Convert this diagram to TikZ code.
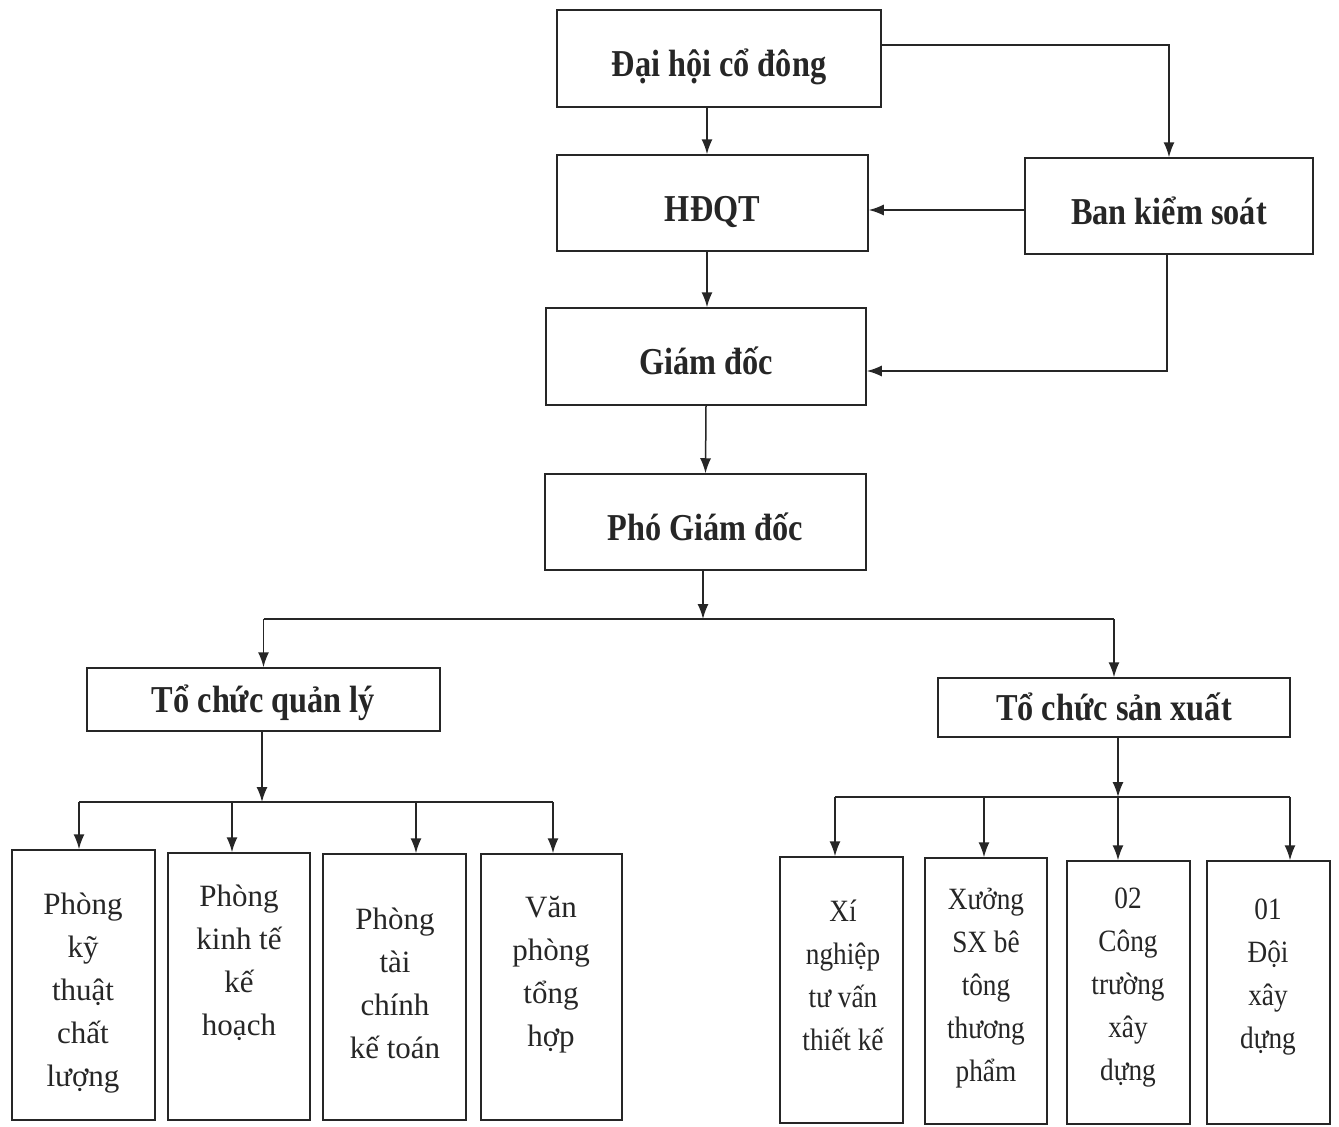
\documentclass[tikz,border=0pt]{standalone}
\usepackage{fontspec}
\setmainfont{Liberation Serif}
\newfontfamily\headfont[FakeStretch=0.85]{Liberation Serif}
\newfontfamily\narrowfont[FakeStretch=0.88]{Liberation Serif}
\usetikzlibrary{arrows.meta}
\definecolor{ink}{HTML}{262626}
\begin{document}
\begin{tikzpicture}[x=1pt,y=-1pt,
  box/.style={draw=ink,line width=1.5pt,inner sep=0pt,text=ink},
  head/.style={box,font=\headfont\bfseries\fontsize{38}{40}\selectfont,text height=38pt,text depth=2pt},
  lowhead/.style={head,text height=28pt,text depth=2pt},
  body/.style={align=center,text=ink,inner sep=0pt,font=\fontsize{31}{43}\selectfont},
  nbody/.style={body,font=\narrowfont\fontsize{31}{43}\selectfont},
  arr/.style={draw=ink,line width=1.5pt,-{Latex[length=15pt,width=11pt]}},
  ln/.style={draw=ink,line width=1.5pt}]
\fill[white] (0,0) rectangle (1339,1127);
\useasboundingbox (0,0) rectangle (1339,1127);

% top level
\node[head,minimum width=324pt,minimum height=97pt] (dh) at (719,58.5) {Đại hội cổ đông};
\node[head,minimum width=311pt,minimum height=96pt] (hd) at (712.5,203) {HĐQT};
\node[head,minimum width=288pt,minimum height=96pt] (bks) at (1169,206) {Ban kiểm soát};
\node[head,minimum width=320pt,minimum height=97pt] (gd) at (706,356.5) {Giám đốc};
\node[head,minimum width=321pt,minimum height=96pt] (pgd) at (705.5,522) {Phó Giám đốc};
\node[lowhead,minimum width=353pt,minimum height=63pt] (tcql) at (263.5,699.5) {Tổ chức quản lý};
\node[lowhead,minimum width=352pt,minimum height=59pt] (tcsx) at (1114,707.5) {Tổ chức sản xuất};

% bottom boxes
\node[box,minimum width=143pt,minimum height=270pt] (b1) at (83.5,985) {};
\node[box,minimum width=142pt,minimum height=267pt] (b2) at (239,986.5) {};
\node[box,minimum width=143pt,minimum height=266pt] (b3) at (394.5,987) {};
\node[box,minimum width=141pt,minimum height=266pt] (b4) at (551.5,987) {};
\node[box,minimum width=123pt,minimum height=266pt] (b5) at (841.5,990) {};
\node[box,minimum width=122pt,minimum height=266pt] (b6) at (986,991) {};
\node[box,minimum width=123pt,minimum height=263pt] (b7) at (1128.5,992.5) {};
\node[box,minimum width=123pt,minimum height=263pt] (b8) at (1268.5,992.5) {};

\node[body] (t1) at (83,993) {Phòng\\kỹ\\thuật\\chất\\lượng};
\node[body] (t2) at (239,963) {Phòng\\kinh tế\\kế\\hoạch};
\node[body] (t3) at (395,983) {Phòng\\tài\\chính\\kế toán};
\node[body] (t4) at (551,975) {Văn\\phòng\\tổng\\hợp};
\node[nbody] (t5) at (843,975) {Xí\\nghiệp\\tư vấn\\thiết kế};
\node[nbody] (t6) at (986,988) {Xưởng\\SX bê\\tông\\thương\\phẩm};
\node[nbody] (t7) at (1128,988) {02\\Công\\trường\\xây\\dựng};
\node[nbody] (t8) at (1268,977) {01\\Đội\\xây\\dựng};

% guide coordinates
\coordinate (c1) at (707,0);
\coordinate (j1) at (703,619);
\coordinate (j2) at (262,802);
\coordinate (j3) at (1118,797);
\coordinate (a1) at (79,802);
\coordinate (a2) at (232,802);
\coordinate (a3) at (416,802);
\coordinate (a4) at (553,802);
\coordinate (s1) at (835,797);
\coordinate (s2) at (984,797);
\coordinate (s3) at (1118,797);
\coordinate (s4) at (1290,797);

% upper connectors
\draw[arr] (dh.south -| c1) -- (hd.north -| c1);
\draw[arr] (hd.south -| c1) -- (gd.north -| c1);
\draw[arr] (gd.south) -- (pgd.north);
\draw[arr] ([yshift=13.5pt]dh.east) -| (bks.north);
\draw[arr] ([yshift=-4pt]bks.west) -- ([yshift=-4pt]bks.west -| hd.east);
\draw[arr] ([xshift=-2pt]bks.south) |- ([yshift=-14.5pt]gd.east);

% to the two branches
\draw[arr] (pgd.south -| j1) -- (j1);
\draw[ln] (j1 -| tcql.north) -- (j1 -| tcsx.north);
\draw[arr] (j1 -| tcql.north) -- (tcql.north);
\draw[arr] (j1 -| tcsx.north) -- (tcsx.north);

% management branch
\draw[arr] (tcql.south -| j2) -- (j2);
\draw[ln] (a1) -- (a4);
\draw[arr] (a1) -- (b1.north -| a1);
\draw[arr] (a2) -- (b2.north -| a2);
\draw[arr] (a3) -- (b3.north -| a3);
\draw[arr] (a4) -- (b4.north -| a4);

% production branch
\draw[arr] (tcsx.south -| j3) -- (j3);
\draw[ln] (s1) -- (s4);
\draw[arr] (s1) -- (b5.north -| s1);
\draw[arr] (s2) -- (b6.north -| s2);
\draw[arr] (s3) -- (b7.north -| s3);
\draw[arr] (s4) -- (b8.north -| s4);
\end{tikzpicture}
\end{document}
